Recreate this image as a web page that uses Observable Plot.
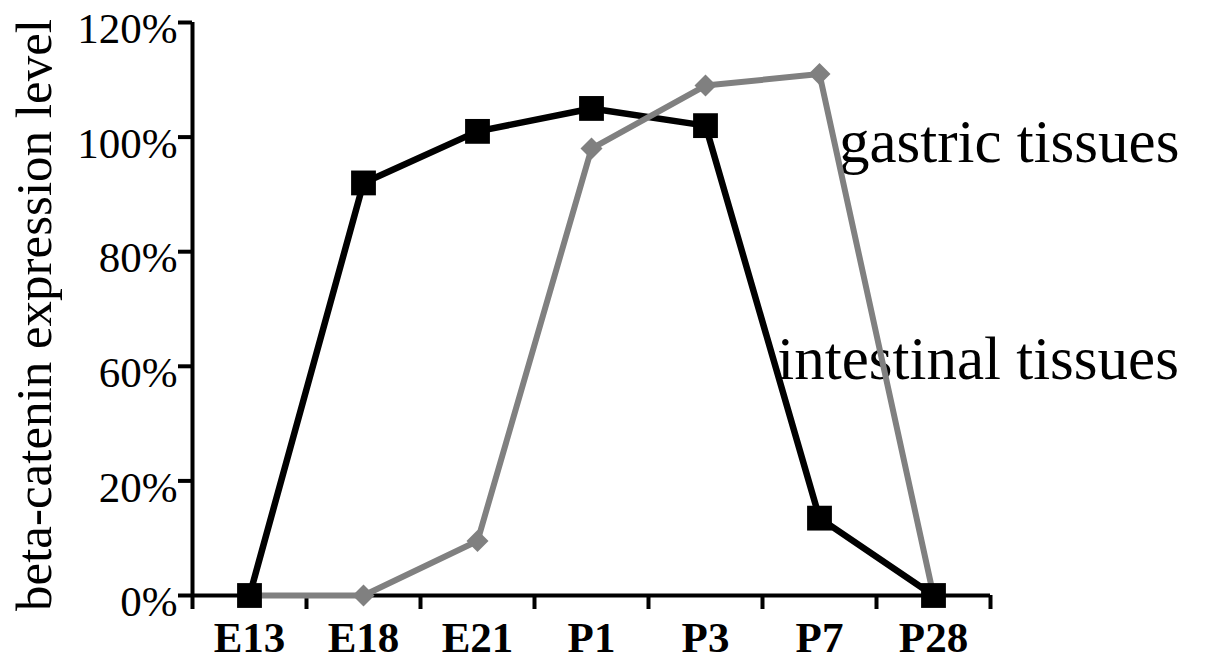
<!DOCTYPE html>
<html><head><meta charset="utf-8">
<script src="https://cdn.jsdelivr.net/npm/d3@7"></script>
<script src="https://cdn.jsdelivr.net/npm/@observablehq/plot@0.6"></script>
<style>html,body{margin:0;padding:0;background:#fff;} svg{display:block}</style>
</head><body><div id="chart"></div>
<script>
// ---- data ----
const categories = ["E13", "E18", "E21", "P1", "P3", "P7", "P28"];
const intestinal = [0, 92, 101, 105, 102, 13.5, 0];   // black squares (%)
const gastric    = [0, 0, 9.5, 98, 109, 111, 0];       // gray diamonds (%)
const yTicks = [0, 20, 60, 80, 100, 120];               // tick labels as printed (equally spaced)
const yTitle = "beta-catenin expression level";
const seriesLabels = ["gastric tissues", "intestinal tissues"];
const labelX = [5.17, 4.63];
const labelY = [95.7, 55.4];

// ---- layout ----
const W = 1205, H = 666, ML = 192, MR = 215, MT = 22, MB = 71;

// the printed axis has equally spaced ticks labelled 0,20,60,80,100,120 %:
// map a percentage onto that axis (piecewise, tick index units)
const toAxis = d3.scaleLinear().domain(yTicks).range(d3.range(yTicks.length));

const blackData = categories.map((c, i) => ({i, c, v: toAxis(intestinal[i])}));
const grayData = categories.map((c, i) => ({i, c, v: toAxis(gastric[i])}));
const boundaries = d3.range(categories.length + 1).map(i => i - 0.5);
const centers = d3.range(categories.length);
const tickIdx = d3.range(yTicks.length);
const labels = seriesLabels.map((t, i) => ({t, x: labelX[i], y: toAxis(labelY[i])}));

const diamond = {
  draw(ctx, size) {
    const r = Math.sqrt(size / 2);
    ctx.moveTo(0, -r); ctx.lineTo(r, 0); ctx.lineTo(0, r); ctx.lineTo(-r, 0); ctx.closePath();
  }
};

const chart = Plot.plot({
  width: W, height: H,
  marginLeft: ML, marginRight: MR, marginTop: MT, marginBottom: MB,
  style: {fontFamily: "'Liberation Serif', 'Times New Roman', serif", color: "black", background: "white"},
  x: {domain: [-0.5, categories.length - 0.5], axis: null},
  y: {domain: [0, yTicks.length - 1], axis: null},
  marks: [
    Plot.text(labels, {x: "x", y: "y", text: "t",
      textAnchor: "start", lineAnchor: "bottom", fontSize: 61, fill: "black"}),
    Plot.ruleX([-0.5], {stroke: "black", strokeWidth: 4}),
    Plot.ruleY([0], {stroke: "black", strokeWidth: 4}),
    Plot.axisY({ticks: tickIdx, tickSize: 14, strokeWidth: 4, tickFormat: () => "", label: null}),
    Plot.axisY({ticks: tickIdx, tickSize: 0, tickPadding: 15, tickFormat: i => yTicks[i] + "%",
      fontSize: 43, dy: 7, label: null}),
    Plot.axisX({ticks: boundaries, tickSize: 14, strokeWidth: 4, tickFormat: () => "", label: null}),
    Plot.axisX({ticks: centers, tickSize: 0, tickPadding: 26, tickFormat: i => categories[i],
      fontSize: 43, fontWeight: "bold", label: null}),
    Plot.text([yTitle], {frameAnchor: "left", textAnchor: "middle", rotate: -90, dx: -158, dy: 6,
      fontSize: 51, text: d => d, fill: "black"}),
    Plot.line(blackData, {x: "i", y: "v", stroke: "black", strokeWidth: 6.5}),
    Plot.line(grayData, {x: "i", y: "v", stroke: "#808080", strokeWidth: 6}),
    Plot.dot(grayData, {x: "i", y: "v", symbol: diamond, r: 8.8, fill: "#808080"}),
    Plot.dot(blackData, {x: "i", y: "v", symbol: "square", r: 14, fill: "black"})
  ]
});
document.getElementById("chart").appendChild(chart);
</script>
</body></html>
